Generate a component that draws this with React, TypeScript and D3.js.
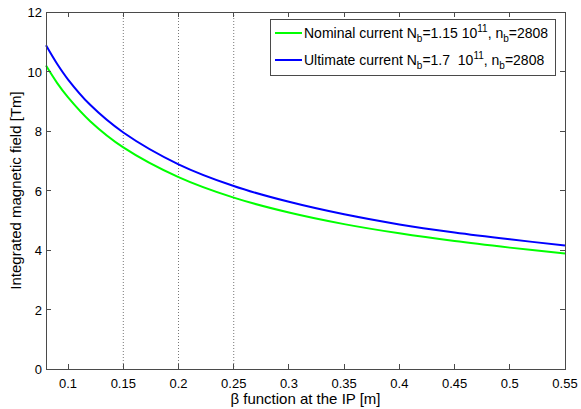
import React from "react";
import * as d3 from "d3";

// β* values [m] at which the integrated field was sampled
const betaValues = [0.08, 0.09, 0.1, 0.12, 0.15, 0.2, 0.25, 0.3, 0.35, 0.4, 0.45, 0.5, 0.55];
// Integrated magnetic field [T·m] for nominal beam current
const nominalField = [10.2, 9.62, 9.13, 8.33, 7.45, 6.45, 5.76, 5.26, 4.87, 4.56, 4.3, 4.08, 3.88];
// Integrated magnetic field [T·m] for ultimate beam current
const ultimateField = [10.88, 10.26, 9.73, 8.88, 7.95, 6.88, 6.15, 5.62, 5.2, 4.86, 4.59, 4.36, 4.15];

const xTicks = [0.1, 0.15, 0.2, 0.25, 0.3, 0.35, 0.4, 0.45, 0.5, 0.55];
const yTicks = [0, 2, 4, 6, 8, 10, 12];
const markerBetas = [0.15, 0.2, 0.25];

const W = 581;
const H = 409;
const left = 46;
const right = 565;
const top = 12;
const bottom = 369;
const font = "Liberation Sans, Arial, sans-serif";
const axisColor = "#4a4a4a";

export default function App() {
  const x = d3.scaleLinear().domain([0.08, 0.55]).range([left, right]);
  const y = d3.scaleLinear().domain([0, 12]).range([bottom, top]);

  const line = d3
    .line<number>()
    .x((_, i) => x(betaValues[i]))
    .y((d) => y(d))
    .curve(d3.curveCatmullRom.alpha(0.5));

  const tickLen = 5;

  return (
    <svg
      width={W}
      height={H}
      style={{ position: "absolute", left: 0, top: 0, background: "#fff" }}
      fontFamily={font}
    >
      <rect x={0} y={0} width={W} height={H} fill="#fff" />
      {/* dotted reference lines */}
      {markerBetas.map((b) => (
        <line
          key={b}
          x1={x(b)}
          x2={x(b)}
          y1={top}
          y2={bottom}
          stroke="#777"
          strokeWidth={1}
          strokeDasharray="1,2"
        />
      ))}

      {/* curves */}
      <path d={line(nominalField) || ""} fill="none" stroke="#00ff00" strokeWidth={2} />
      <path d={line(ultimateField) || ""} fill="none" stroke="#0000ff" strokeWidth={2} />

      {/* frame */}
      <rect
        x={left}
        y={top}
        width={right - left}
        height={bottom - top}
        fill="none"
        stroke={axisColor}
        strokeWidth={1}
        shapeRendering="crispEdges"
      />

      {/* x ticks */}
      {xTicks.map((t) => (
        <g key={t} shapeRendering="crispEdges">
          <line x1={x(t)} x2={x(t)} y1={bottom} y2={bottom - tickLen} stroke={axisColor} />
          <line x1={x(t)} x2={x(t)} y1={top} y2={top + tickLen} stroke={axisColor} />
          <text x={x(t)} y={bottom + 19} textAnchor="middle" fontSize={13} fill="#000">
            {String(t)}
          </text>
        </g>
      ))}

      {/* y ticks */}
      {yTicks.map((t) => (
        <g key={t} shapeRendering="crispEdges">
          <line x1={left} x2={left + tickLen} y1={y(t)} y2={y(t)} stroke={axisColor} />
          <line x1={right} x2={right - tickLen} y1={y(t)} y2={y(t)} stroke={axisColor} />
          <text x={left - 4} y={y(t) + 5} textAnchor="end" fontSize={13} fill="#000">
            {String(t)}
          </text>
        </g>
      ))}

      {/* axis titles */}
      <text x={(left + right) / 2} y={404} textAnchor="middle" fontSize={15} fill="#000">
        β function at the IP [m]
      </text>
      <text
        transform={`translate(21, ${(top + bottom) / 2}) rotate(-90)`}
        textAnchor="middle"
        fontSize={15}
        fill="#000"
      >
        Integrated magnetic field [Tm]
      </text>

      {/* legend */}
      <g>
        <rect x={270} y={19} width={285} height={56} fill="#fff" stroke={axisColor} shapeRendering="crispEdges" />
        <line x1={275} x2={302} y1={33} y2={33} stroke="#00ff00" strokeWidth={2} />
        <line x1={275} x2={302} y1={60} y2={60} stroke="#0000ff" strokeWidth={2} />
        <text x={304} y={38} fontSize={14} fill="#000">
          Nominal current N
          <tspan fontSize={10} dy={4}>b</tspan>
          <tspan dy={-4}>=1.15 10</tspan>
          <tspan fontSize={10} dy={-6}>11</tspan>
          <tspan dy={6}>, n</tspan>
          <tspan fontSize={10} dy={4}>b</tspan>
          <tspan dy={-4}>=2808</tspan>
        </text>
        <text x={304} y={65} fontSize={14} fill="#000" xmlSpace="preserve">
          Ultimate current N
          <tspan fontSize={10} dy={4}>b</tspan>
          <tspan dy={-4}>=1.7  10</tspan>
          <tspan fontSize={10} dy={-6}>11</tspan>
          <tspan dy={6}>, n</tspan>
          <tspan fontSize={10} dy={4}>b</tspan>
          <tspan dy={-4}>=2808</tspan>
        </text>
      </g>
    </svg>
  );
}
